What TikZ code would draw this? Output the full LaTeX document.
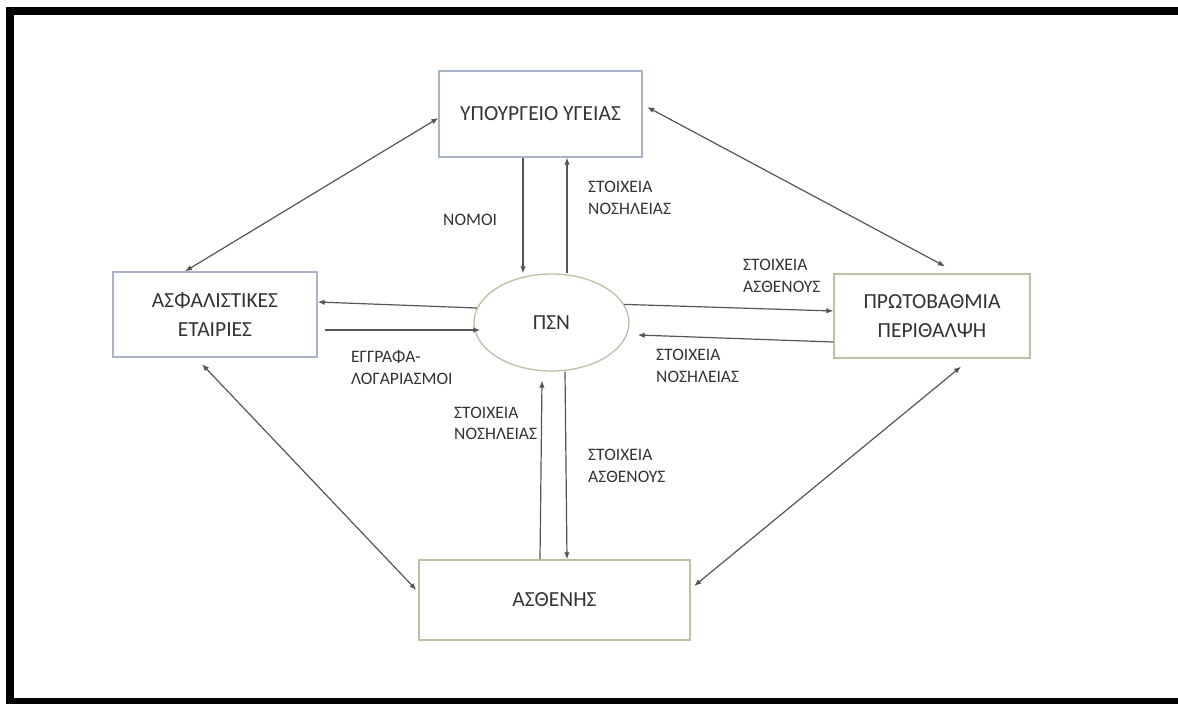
\documentclass[tikz,border=0pt]{standalone}
\usepackage{fontspec}
\setmainfont{Carlito}
\usetikzlibrary{arrows.meta,shapes.geometric,calc}
\definecolor{txt}{HTML}{333333}
\definecolor{bluebox}{HTML}{A8B4C8}
\definecolor{greenbox}{HTML}{B4C4A4}
\definecolor{wire}{HTML}{555555}
\begin{document}
\begin{tikzpicture}[x=1pt,y=-1pt,
  entity/.style={draw,line width=1.3pt,rectangle,inner sep=0pt,align=center,
    text=txt,font=\fontsize{21.5}{29}\selectfont},
  flow/.style={draw=wire,line width=1.2pt,-{Latex[length=7pt,width=5.5pt]}},
  both/.style={draw=wire,line width=1.2pt,{Latex[length=7pt,width=5.5pt]}-{Latex[length=7pt,width=5.5pt]}},
  lbl/.style={anchor=west,align=left,inner sep=0pt,text=txt,
    font=\fontsize{17.5}{21.5}\selectfont}]
\useasboundingbox (0,0) rectangle (1178,704);
\begin{scope}
  \clip (0,0) rectangle (1178,704);
  \draw[line width=8pt] (9.5,11) rectangle (1200,702);
\end{scope}

% entities
\node[entity,draw=bluebox,minimum width=203pt,minimum height=86pt] (ypo) at (540.5,114) {ΥΠΟΥΡΓΕΙΟ ΥΓΕΙΑΣ};
\node[entity,draw=bluebox,minimum width=204pt,minimum height=85pt] (asf) at (215,314.5) {ΑΣΦΑΛΙΣΤΙΚΕΣ\\ΕΤΑΙΡΙΕΣ};
\node[entity,draw=greenbox,minimum width=196pt,minimum height=84pt] (prot) at (932,316) {ΠΡΩΤΟΒΑΘΜΙΑ\\ΠΕΡΙΘΑΛΨΗ};
\node[entity,draw=greenbox,minimum width=271pt,minimum height=80pt] (asth) at (554.5,600) {ΑΣΘΕΝΗΣ};
\node[entity,ellipse,draw=greenbox,minimum width=155pt,minimum height=97pt] (psn) at (551.5,322.5) {ΠΣΝ};

% ministry <-> system
\draw[flow] ([xshift=-17.5pt]ypo.south) -- ([xshift=-17.5pt]ypo.south |- psn.north);
\draw[flow] ([xshift=26.5pt]ypo.south |- psn.north) -- ([xshift=26.5pt]ypo.south);

% insurers <-> system
\draw[flow] (psn.169) -- ([yshift=12.5pt]asf.east);
\draw[flow] ([shift={(7pt,-15.5pt)}]asf.east) -- ([shift={(7pt,-15.5pt)}]asf.east -| psn.west);

% primary care <-> system
\draw[flow] (psn.14) -- ([yshift=5pt]prot.west);
\draw[flow] ([yshift=-26pt]prot.west) -- ([shift={(8pt,-12.5pt)}]psn.east);

% patient <-> system
\draw[flow] ([xshift=-14.5pt]asth.north) -- ([shift={(-9.5pt,-9pt)}]psn.south);
\draw[flow] ([xshift=13.5pt]psn.south) -- ([xshift=12.5pt]asth.north);

% outer links
\draw[both] ([xshift=-30pt]asf.north) -- ([yshift=-4pt]ypo.west);
\draw[both] ([shift={(4.5pt,7pt)}]ypo.east) -- ([shift={(13pt,7pt)}]prot.north);
\draw[both] ([shift={(-13pt,-6.5pt)}]asf.south) -- ([shift={(-2pt,10pt)}]asth.west);
\draw[both] ([shift={(29pt,-8pt)}]prot.south) -- ([shift={(3.5pt,14pt)}]asth.east);

% flow labels
\node[lbl] (l1) at (443,220) {ΝΟΜΟΙ};
\node[lbl] (l2) at (588,198) {ΣΤΟΙΧΕΙΑ\\ΝΟΣΗΛΕΙΑΣ};
\node[lbl] (l3) at (351,367.5) {ΕΓΓΡΑΦΑ-\\ΛΟΓΑΡΙΑΣΜΟΙ};
\node[lbl] (l4) at (743,276) {ΣΤΟΙΧΕΙΑ\\ΑΣΘΕΝΟΥΣ};
\node[lbl] (l5) at (656,366) {ΣΤΟΙΧΕΙΑ\\ΝΟΣΗΛΕΙΑΣ};
\node[lbl] (l6) at (454,423.5) {ΣΤΟΙΧΕΙΑ\\ΝΟΣΗΛΕΙΑΣ};
\node[lbl] (l7) at (588,466) {ΣΤΟΙΧΕΙΑ\\ΑΣΘΕΝΟΥΣ};
\end{tikzpicture}
\end{document}
